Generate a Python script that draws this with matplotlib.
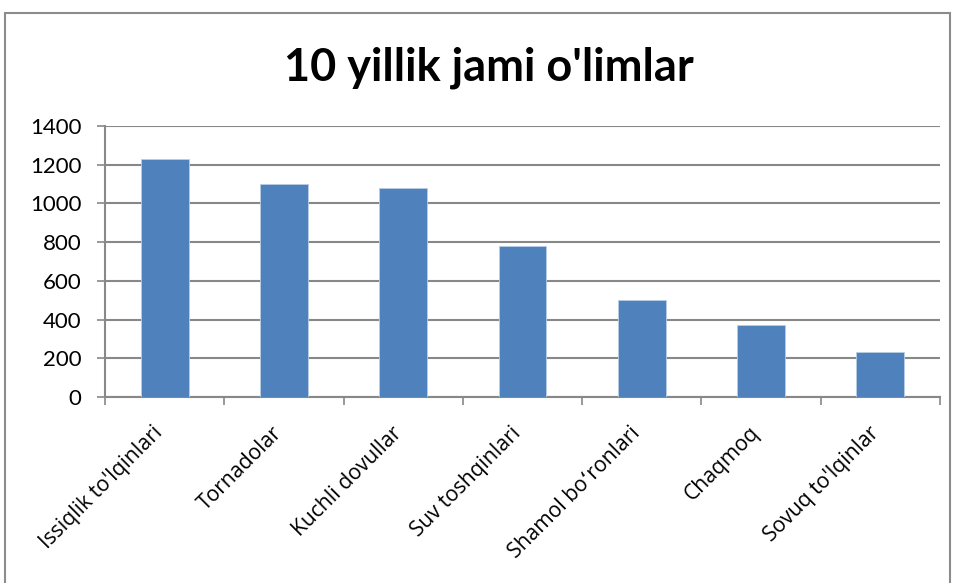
#!/usr/bin/env python3
import matplotlib.pyplot as plt
import matplotlib.transforms as mtransforms
import numpy as np
from matplotlib.patches import Rectangle

TITLE = "10 yillik jami o'limlar"

categories = ["Issiqlik to'lqinlari", "Tornadolar", "Kuchli dovullar",
              "Suv toshqinlari", "Shamol bo\u02bbronlari", "Chaqmoq",
              "Sovuq to'lqinlar"]
deaths = [1230, 1100, 1080, 780, 500, 370, 230]
y_ticks = [0, 200, 400, 600, 800, 1000, 1200, 1400]

plt.rcParams['font.family'] = ['Lato', 'DejaVu Sans']

bar_color = '#4F81BD'
grid_color = '#888888'

fig = plt.figure(figsize=(9.56, 5.83), dpi=100)
ax = fig.add_axes([105 / 956, 1 - 397 / 583, 835 / 956, 271 / 583])

# outer chart frame
fig.patches.append(Rectangle((5 / 956, -0.01), 945 / 956, 1 - 13 / 583 + 0.01,
                             transform=fig.transFigure, fill=False,
                             edgecolor='#8c8c8c', linewidth=1.5))

x = np.arange(len(categories))
ax.bar(x, deaths, 0.4, color=bar_color, edgecolor='#b9cde5', linewidth=0.6, zorder=3)

ax.set_xlim(-0.5, len(categories) - 0.5)
ax.set_ylim(0, 1400)
ax.set_yticks(y_ticks)
ax.tick_params(axis='y', length=6, width=1.2, color=grid_color, labelsize=16, pad=11)
ax.grid(axis='y', color=grid_color, linewidth=1.5, zorder=0)

ax.set_xticks(x)
ax.set_xticklabels(categories, rotation=45, ha='right', va='top',
                   rotation_mode='anchor', fontsize=15.2, family=['Open Sans', 'DejaVu Sans'])
ax.tick_params(axis='x', which='major', length=0, pad=14)
ax.set_xticks(np.arange(-0.5, len(categories)), minor=True)
ax.tick_params(axis='x', which='minor', length=6, width=1.2, color=grid_color)
shift = mtransforms.ScaledTranslation(-0.12, -0.06, fig.dpi_scale_trans)
for lbl in ax.get_xticklabels():
    lbl.set_transform(lbl.get_transform() + shift)

for side in ['top', 'right']:
    ax.spines[side].set_visible(False)
for side in ['left', 'bottom']:
    ax.spines[side].set_color(grid_color)
    ax.spines[side].set_linewidth(1.5)

fig.text(489 / 956, 1 - 68 / 583, TITLE, ha='center', va='center',
         fontsize=32.5, fontweight='bold')

plt.savefig('out.png', dpi=100)
plt.close()
